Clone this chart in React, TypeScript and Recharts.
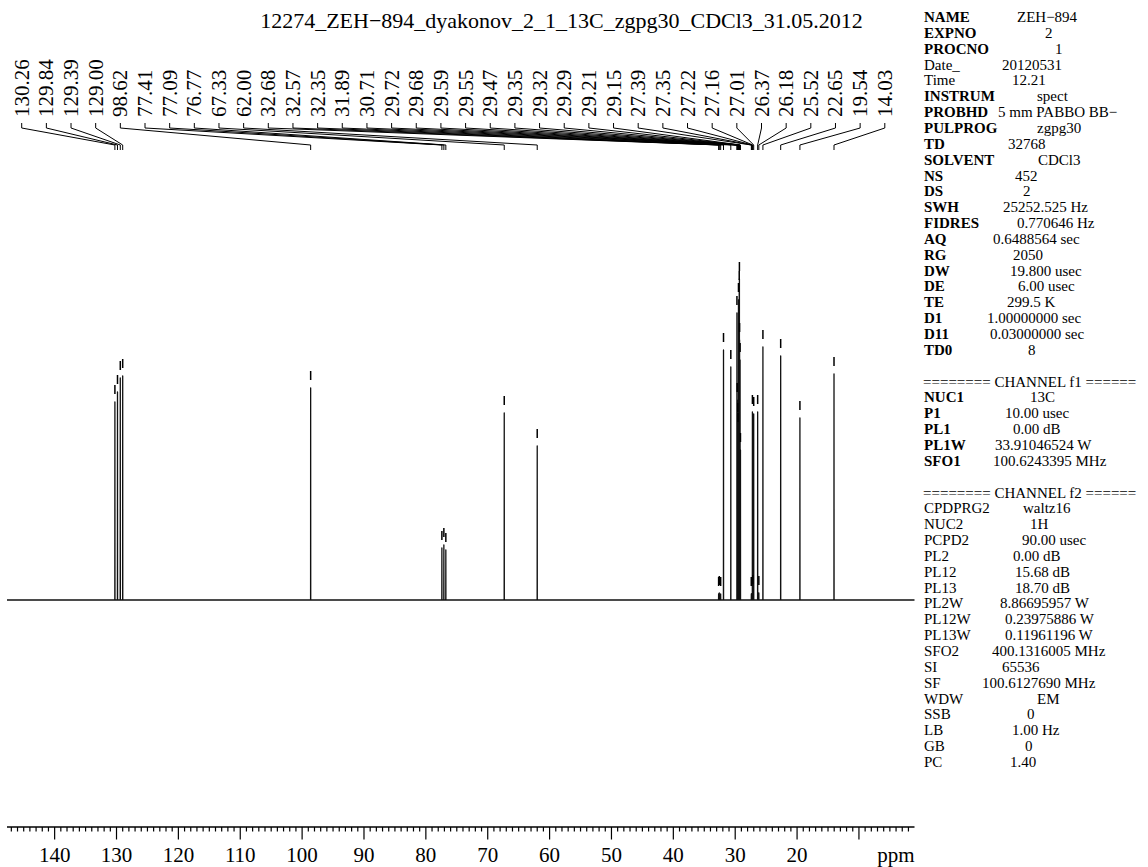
import React from "react";
import { ComposedChart, Line, Scatter, XAxis, YAxis } from "recharts";

// picked peaks, left to right (ppm) and their heights above the baseline
const PEAK_PPM = [
  130.26, 129.84, 129.39, 129.0, 98.62, 77.41, 77.09, 76.77, 67.33, 62.0,
  32.68, 32.57, 32.35, 31.89, 30.71, 29.72, 29.68, 29.59, 29.55, 29.47,
  29.35, 29.32, 29.29, 29.21, 29.15, 27.39, 27.35, 27.22, 27.16, 27.01,
  26.37, 26.18, 25.52, 22.65, 19.54, 14.03,
];
const PEAK_HEIGHT = [
  198, 208, 222, 224, 212, 52, 55, 50, 187, 154,
  6, 7, 6, 250, 233, 287, 200, 180, 170, 300,
  312, 321, 260, 240, 150, 6, 6, 188, 8, 186,
  188, 7, 253, 244, 182, 226,
];

const PPM_RANGE = [1.02, 147.7];

const TITLE = "12274_ZEH\u2212894_dyakonov_2_1_13C_zgpg30_CDCl3_31.05.2012";

// acquisition / processing parameters (null = blank line)
const PARAMS: ([string, string] | null)[] = [
  ["NAME", "ZEH\u2212894"],
  ["EXPNO", "2"],
  ["PROCNO", "1"],
  ["Date_", "20120531"],
  ["Time", "12.21"],
  ["INSTRUM", "spect"],
  ["PROBHD", "5 mm PABBO BB\u2212"],
  ["PULPROG", "zgpg30"],
  ["TD", "32768"],
  ["SOLVENT", "CDCl3"],
  ["NS", "452"],
  ["DS", "2"],
  ["SWH", "25252.525 Hz"],
  ["FIDRES", "0.770646 Hz"],
  ["AQ", "0.6488564 sec"],
  ["RG", "2050"],
  ["DW", "19.800 usec"],
  ["DE", "6.00 usec"],
  ["TE", "299.5 K"],
  ["D1", "1.00000000 sec"],
  ["D11", "0.03000000 sec"],
  ["TD0", "8"],
  null,
  ["", "======== CHANNEL f1 ======"],
  ["NUC1", "13C"],
  ["P1", "10.00 usec"],
  ["PL1", "0.00 dB"],
  ["PL1W", "33.91046524 W"],
  ["SFO1", "100.6243395 MHz"],
  null,
  ["", "======== CHANNEL f2 ======"],
  ["CPDPRG2", "waltz16"],
  ["NUC2", "1H"],
  ["PCPD2", "90.00 usec"],
  ["PL2", "0.00 dB"],
  ["PL12", "15.68 dB"],
  ["PL13", "18.70 dB"],
  ["PL2W", "8.86695957 W"],
  ["PL12W", "0.23975886 W"],
  ["PL13W", "0.11961196 W"],
  ["SFO2", "400.1316005 MHz"],
  ["SI", "65536"],
  ["SF", "100.6127690 MHz"],
  ["WDW", "EM"],
  ["SSB", "0"],
  ["LB", "1.00 Hz"],
  ["GB", "0"],
  ["PC", "1.40"],
];

// x where each value starts (same order as PARAMS)
const VALUE_X = [
  1017, 1045, 1055, 1002, 1012, 1037, 998, 1037, 1008, 1038, 1015, 1023, 1003,
  1017, 993, 1013, 1010, 1018, 1007, 987, 990, 1028, 0, 923, 1030, 1005, 1013,
  995, 993, 0, 923, 1023, 1030, 1022, 1013, 1015, 1015, 1000, 1005, 1005, 992,
  1002, 982, 1037, 1027, 1012, 1025, 1010,
];

const BOLD = new Set([
  "NAME", "EXPNO", "PROCNO", "INSTRUM", "PROBHD", "PULPROG", "TD", "SOLVENT",
  "NS", "DS", "SWH", "FIDRES", "AQ", "RG", "DW", "DE", "TE", "D1", "D11", "TD0",
  "NUC1", "P1", "PL1", "PL1W", "SFO1",
]);

const FONT = "'Liberation Serif', 'Times New Roman', serif";

const W = 1148;
const H = 867;

const peaks = PEAK_PPM.map((ppm, i) => ({ x: ppm, y: PEAK_HEIGHT[i], i }));

// stick spectrum: every peak is a narrow spike on a flat baseline
const spectrum = (() => {
  const pts: { x: number; y: number }[] = [{ x: PPM_RANGE[1], y: 0 }];
  peaks.forEach((p) => {
    pts.push({ x: p.x + 0.012, y: 0 });
    pts.push({ x: p.x, y: p.y });
    pts.push({ x: p.x - 0.012, y: 0 });
  });
  pts.push({ x: PPM_RANGE[0], y: 0 });
  return pts;
})();

const allTicks: number[] = [];
for (let v = 2; v <= 147; v++) allTicks.push(v);

const PpmTick = (props: any) => {
  const { x, y, payload } = props;
  const v = payload.value;
  const major = v % 10 === 0;
  return (
    <g>
      <line x1={x} x2={x} y1={y} y2={y + (major ? 12.5 : 4.5)} stroke="#000" strokeWidth={1.2} />
      {major && v >= 20 && (
        <text x={x} y={y + 35} textAnchor="middle" fontSize={21} fontFamily={FONT} fill="#000">
          {v}
        </text>
      )}
    </g>
  );
};

const PeakMark = (props: any) => {
  const { cx, cy, payload } = props;
  const lx = 21.7 + payload.i * 24.66;
  return (
    <g>
      <line x1={cx} x2={cx} y1={cy - 17} y2={cy - 8} stroke="#000" strokeWidth={1.5} />
      <path
        d={`M${lx},123 L${lx},128 L${cx},145 L${cx},150`}
        fill="none"
        stroke="#000"
        strokeWidth={1}
      />
      <text
        transform={`translate(${lx + 7},117) rotate(-90)`}
        fontSize={21}
        fontFamily={FONT}
        fill="#000"
      >
        {payload.x.toFixed(2)}
      </text>
    </g>
  );
};

export default function App() {
  let row = -1;
  return (
    <div style={{ position: "relative", width: W, height: H, overflow: "hidden", background: "#fff" }}>
      <style>{`body{margin:0}`}</style>
      <ComposedChart
        width={W}
        height={H}
        margin={{ top: 150, right: 233.5, bottom: 0, left: 7 }}
      >
        <XAxis
          type="number"
          dataKey="x"
          domain={PPM_RANGE}
          reversed
          ticks={allTicks}
          interval={0}
          tickLine={false}
          tickSize={0}
          tickMargin={0}
          tick={<PpmTick />}
          height={40}
          axisLine={{ stroke: "#000", strokeWidth: 1.5 }}
        />
        <YAxis type="number" hide domain={[-227, 450]} />
        <Line
          data={spectrum}
          dataKey="y"
          type="linear"
          stroke="#111"
          strokeWidth={1.3}
          strokeLinejoin="round"
          dot={false}
          isAnimationActive={false}
        />
        <Scatter data={peaks} dataKey="y" shape={<PeakMark />} isAnimationActive={false} />
      </ComposedChart>
      <svg
        width={W}
        height={H}
        style={{ position: "absolute", left: 0, top: 0, pointerEvents: "none" }}
        fontFamily={FONT}
      >
        <text x={561.5} y={28} textAnchor="middle" fontSize={22} fill="#000">
          {TITLE}
        </text>
        <text x={914.5} y={862} textAnchor="end" fontSize={21} fill="#000">
          ppm
        </text>
        {PARAMS.map((p, idx) => {
          row++;
          if (!p) return null;
          const base = 17 + row * 15.85 + 5;
          return (
            <g key={idx}>
              {p[0] && (
                <text x={924} y={base} fontSize={15} fontWeight={BOLD.has(p[0]) ? 700 : 400} fill="#000">
                  {p[0]}
                </text>
              )}
              <text x={VALUE_X[idx]} y={base} fontSize={15} fill="#000">
                {p[1]}
              </text>
            </g>
          );
        })}
      </svg>
    </div>
  );
}
